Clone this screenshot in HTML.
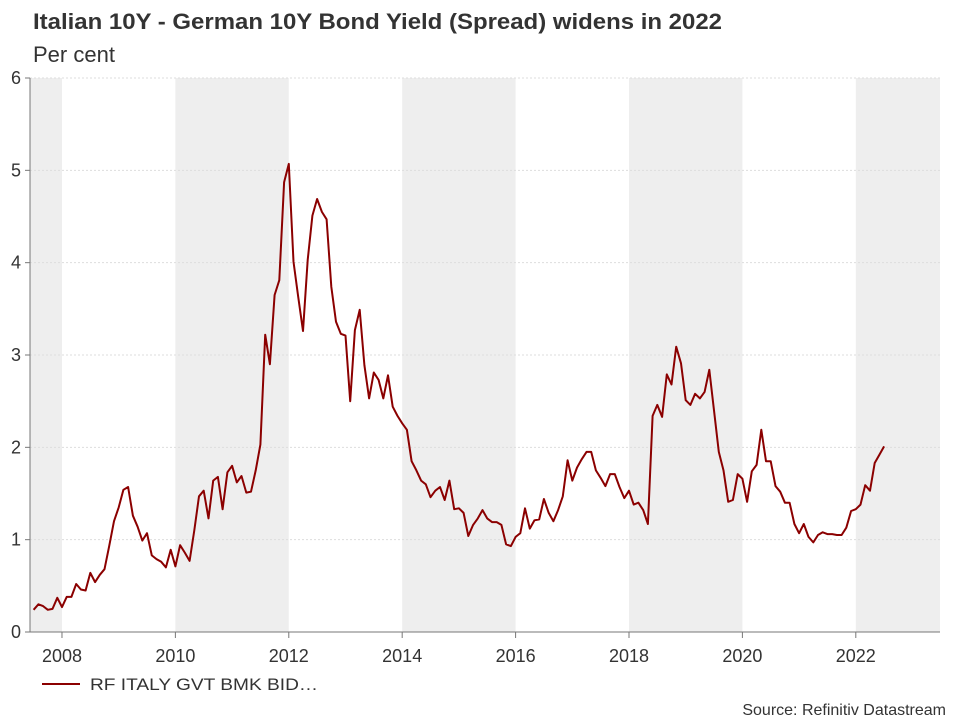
<!DOCTYPE html>
<html><head><meta charset="utf-8"><style>
body{margin:0;background:#fff;font-family:"Liberation Sans",sans-serif}
svg text{font-family:"Liberation Sans",sans-serif}
</style></head><body>
<svg id="c" width="960" height="720">
<text x="33" y="29" font-size="22" font-weight="bold" fill="#333" textLength="689" lengthAdjust="spacingAndGlyphs">Italian 10Y - German 10Y Bond Yield (Spread) widens in 2022</text>
<text x="33" y="62" font-size="22" fill="#333">Per cent</text>
<g id="bands"></g><g id="grid"></g><g id="axes"></g><g id="series"></g>
<line x1="42" y1="684" x2="80" y2="684" stroke="#8b0000" stroke-width="2"/>
<text x="90" y="690" font-size="17" fill="#333" textLength="228" lengthAdjust="spacingAndGlyphs">RF ITALY GVT BMK BID…</text>
<text x="946" y="715" font-size="16" fill="#333" text-anchor="end">Source: Refinitiv Datastream</text>
</svg>
<script>
const startYear = 2007.5;
const spread = [0.24,0.30,0.28,0.24,0.25,0.37,0.27,0.38,0.38,0.52,0.46,0.45,0.64,0.54,0.62,0.68,0.93,1.20,1.35,1.54,1.57,1.26,1.14,0.99,1.07,0.83,0.79,0.76,0.70,0.89,0.71,0.94,0.86,0.77,1.10,1.47,1.53,1.23,1.64,1.68,1.33,1.73,1.80,1.62,1.69,1.51,1.52,1.75,2.03,3.22,2.90,3.65,3.81,4.87,5.07,4.01,3.63,3.26,4.03,4.51,4.69,4.55,4.47,3.74,3.36,3.23,3.21,2.50,3.27,3.49,2.89,2.53,2.81,2.73,2.53,2.78,2.44,2.34,2.26,2.19,1.85,1.75,1.64,1.60,1.46,1.53,1.57,1.43,1.64,1.33,1.34,1.29,1.04,1.16,1.23,1.32,1.23,1.19,1.19,1.16,0.95,0.93,1.03,1.07,1.34,1.12,1.21,1.22,1.44,1.29,1.20,1.32,1.47,1.86,1.64,1.78,1.87,1.95,1.95,1.75,1.67,1.58,1.71,1.71,1.57,1.45,1.53,1.38,1.40,1.32,1.17,2.34,2.46,2.33,2.79,2.68,3.09,2.91,2.51,2.46,2.58,2.53,2.60,2.84,2.40,1.95,1.75,1.41,1.43,1.71,1.66,1.41,1.74,1.81,2.19,1.85,1.85,1.58,1.52,1.40,1.40,1.17,1.07,1.17,1.03,0.97,1.05,1.08,1.06,1.06,1.05,1.05,1.13,1.31,1.33,1.38,1.59,1.53,1.83,1.92,2.01];
const yTicks = [0,1,2,3,4,5,6];
const xTicks = [2008,2010,2012,2014,2016,2018,2020,2022];
const bandStarts = [2006,2010,2014,2018,2022];
const NS='http://www.w3.org/2000/svg';
const X0=30,X1=940,Y0=632,Y1=78,xmin=2007.436,xmax=2023.485;
const xs=v=>X0+(v-xmin)/(xmax-xmin)*(X1-X0);
const ys=v=>Y0-(v/6)*(Y0-Y1);
function mk(tag,attrs,parent){const e=document.createElementNS(NS,tag);for(const k in attrs)e.setAttribute(k,attrs[k]);document.getElementById(parent).appendChild(e);return e;}
bandStarts.forEach(b=>{const a=Math.max(xs(b),X0),e=Math.min(xs(b+2),X1);
 const r=mk('rect',{x:a,y:Y1,width:e-a,height:Y0-Y1,fill:'#eeeeee'},'bands');
 
 });
yTicks.forEach(t=>{
 if(t>0){const l=mk('line',{x1:X0,x2:X1,y1:ys(t),y2:ys(t),stroke:'#dddddd','stroke-dasharray':'2,2'},'grid');
 
 }
 const tx=mk('text',{x:21,y:ys(t)+6,'font-size':18,fill:'#333','text-anchor':'end'},'axes');tx.textContent=t;
 
 
 mk('line',{x1:X0-5,x2:X0,y1:ys(t),y2:ys(t),stroke:'#777'},'axes');
});
mk('line',{x1:X0,x2:X0,y1:Y1,y2:Y0,stroke:'#777'},'axes');
mk('line',{x1:X0,x2:X1,y1:Y0,y2:Y0,stroke:'#777'},'axes');
xTicks.forEach(t=>{mk('line',{x1:xs(t),x2:xs(t),y1:Y0,y2:Y0+6,stroke:'#777'},'axes');
 const tx=mk('text',{x:xs(t),y:Y0+30,'font-size':18,fill:'#333','text-anchor':'middle'},'axes');tx.textContent=t;
 
 });
const pts=spread.map((v,i)=>xs(startYear+i/12).toFixed(1)+','+ys(v).toFixed(1)).join(' ');
const pl=mk('polyline',{points:pts,fill:'none',stroke:'#8b0000','stroke-width':2,'stroke-linejoin':'round'},'series');


</script>
</body></html>
